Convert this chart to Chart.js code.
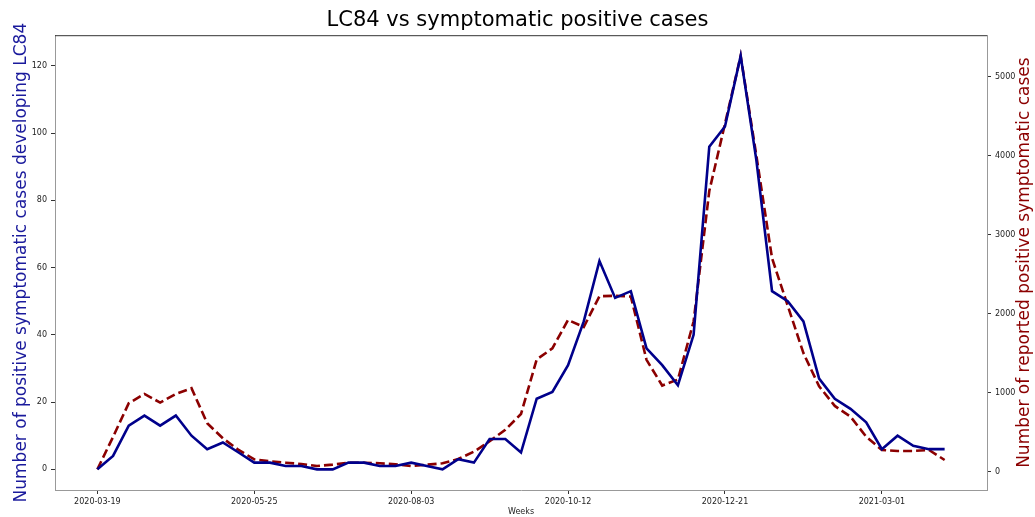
<!DOCTYPE html>
<html>
<head>
<meta charset="utf-8">
<script src="https://cdn.jsdelivr.net/npm/chart.js@4.4.1/dist/chart.umd.min.js"></script>
<style>
  body { margin: 0; background: #fff; }
  canvas { display: block; }
</style>
</head>
<body>
<canvas id="chart" width="1035" height="517"></canvas>
<script>
// weekly series, index 0 = 2020-03-19
const lc84 = [0, 4, 13, 16, 13, 16, 10, 6, 8, 5,
  2, 2, 1, 1, 0, 0, 2, 2, 1, 1,
  2, 1, 0, 3, 2, 9, 9, 5, 21, 23,
  31, 44, 62, 51, 53, 36, 31, 25, 40, 96,
  102, 123, 92, 53, 50, 44, 27, 21, 18, 14,
  6, 10, 7, 6, 6]
const casosSintomaticos = [30, 440, 866, 984, 874, 984, 1056, 613, 423, 275,
  157, 131, 114, 97, 72, 89, 114, 114, 106, 94,
  72, 89, 106, 160, 253, 385, 530, 730, 1420, 1560,
  1920, 1830, 2220, 2225, 2215, 1415, 1090, 1165, 1900, 3550,
  4400, 5260, 4000, 2700, 2100, 1500, 1080, 832, 696, 443,
  275, 262, 262, 275, 148]
// x tick labels (one every 10 weeks)
const tickIdx = [0, 10, 20, 30, 40, 50]
const tickLabels = ['2020-03-19', '2020-05-25', '2020-08-03', '2020-10-12', '2020-12-21', '2021-03-01']
const leftTicks = [0, 20, 40, 60, 80, 100, 120]
const rightTicks = [0, 1000, 2000, 3000, 4000, 5000]
const tituloDerecho = 'Number of reported positive symptomatic cases'

// margenes del 5% como matplotlib
function margen(arr) {
  const min = Math.min(...arr), max = Math.max(...arr)
  const m = (max - min) * 0.05
  return { min: min - m, max: max + m }
}
const xr = { min: -(lc84.length - 1) * 0.05, max: (lc84.length - 1) * 1.05 }
const yr = margen(lc84)
const y1r = margen(casosSintomaticos)

const toXY = arr => arr.map((v, i) => ({ x: i, y: v }))

// linea superior del marco + titulo del eje derecho (leído de abajo a arriba)
const marco = {
  id: 'marco',
  afterDraw(chart) {
    const { ctx, chartArea } = chart
    ctx.save()
    ctx.strokeStyle = '#333'
    ctx.lineWidth = 1
    ctx.beginPath()
    ctx.moveTo(chartArea.left, chartArea.top + 0.5)
    ctx.lineTo(chartArea.right, chartArea.top + 0.5)
    ctx.stroke()

    ctx.translate(1025, (chartArea.top + chartArea.bottom) / 2)
    ctx.rotate(-Math.PI / 2)
    ctx.fillStyle = '#8b0000'
    ctx.font = '17px "DejaVu Sans"'
    ctx.textAlign = 'center'
    ctx.textBaseline = 'middle'
    ctx.fillText(tituloDerecho, 0, 0)
    ctx.restore()
  }
}

const tickFont = { family: 'DejaVu Sans', size: 8 }
const ejeComun = {
  grid: { display: true, drawOnChartArea: false, drawTicks: true, tickLength: 4, tickColor: '#333' },
  border: { display: true, color: '#999', width: 1 },
}

new Chart(document.getElementById('chart'), {
  type: 'line',
  data: {
    datasets: [{
      label: 'LC84',
      data: toXY(lc84),
      borderColor: '#00008b',
      borderWidth: 2.6,
      pointRadius: 0,
      tension: 0,
      yAxisID: 'y'
    }, {
      label: 'Symptomatic positive cases',
      data: toXY(casosSintomaticos),
      borderColor: '#8b0000',
      borderWidth: 2.6,
      borderDash: [9, 4],
      pointRadius: 0,
      tension: 0,
      yAxisID: 'y1'
    }]
  },
  options: {
    responsive: false,
    animation: false,
    devicePixelRatio: 1,
    layout: { padding: 0 },
    plugins: {
      legend: { display: false },
      tooltip: { enabled: false },
      title: {
        display: true,
        text: 'LC84 vs symptomatic positive cases',
        color: '#000',
        font: { family: 'DejaVu Sans', size: 21, weight: 'normal' },
        padding: { top: 8, bottom: 2 }
      }
    },
    scales: {
      x: {
        ...ejeComun,
        type: 'linear',
        min: xr.min,
        max: xr.max,
        afterBuildTicks: s => { s.ticks = tickIdx.map(v => ({ value: v })) },
        afterFit: s => { s.height = 27 },
        ticks: {
          autoSkip: false,
          maxRotation: 0,
          padding: 3,
          color: '#222',
          font: tickFont,
          callback: v => tickLabels[tickIdx.indexOf(v)]
        },
        title: { display: true, text: 'Weeks', color: '#222', font: { family: 'DejaVu Sans', size: 8 }, padding: { top: 2, bottom: 0 } }
      },
      y: {
        ...ejeComun,
        position: 'left',
        min: yr.min,
        max: yr.max,
        afterBuildTicks: s => { s.ticks = leftTicks.map(v => ({ value: v })) },
        afterFit: s => { s.width = 55 },
        ticks: { padding: 4, color: '#222', font: tickFont, callback: v => String(v) },
        title: {
          display: true,
          text: 'Number of positive symptomatic cases developing LC84',
          color: '#1a1a9c',
          font: { family: 'DejaVu Sans', size: 17 },
          padding: { top: 11, bottom: 0 }
        }
      },
      y1: {
        ...ejeComun,
        position: 'right',
        min: y1r.min,
        max: y1r.max,
        afterBuildTicks: s => { s.ticks = rightTicks.map(v => ({ value: v })) },
        afterFit: s => { s.width = 48 },
        ticks: { padding: 4, color: '#222', font: tickFont, callback: v => String(v) }
      }
    }
  },
  plugins: [marco]
})
</script>
</body>
</html>
